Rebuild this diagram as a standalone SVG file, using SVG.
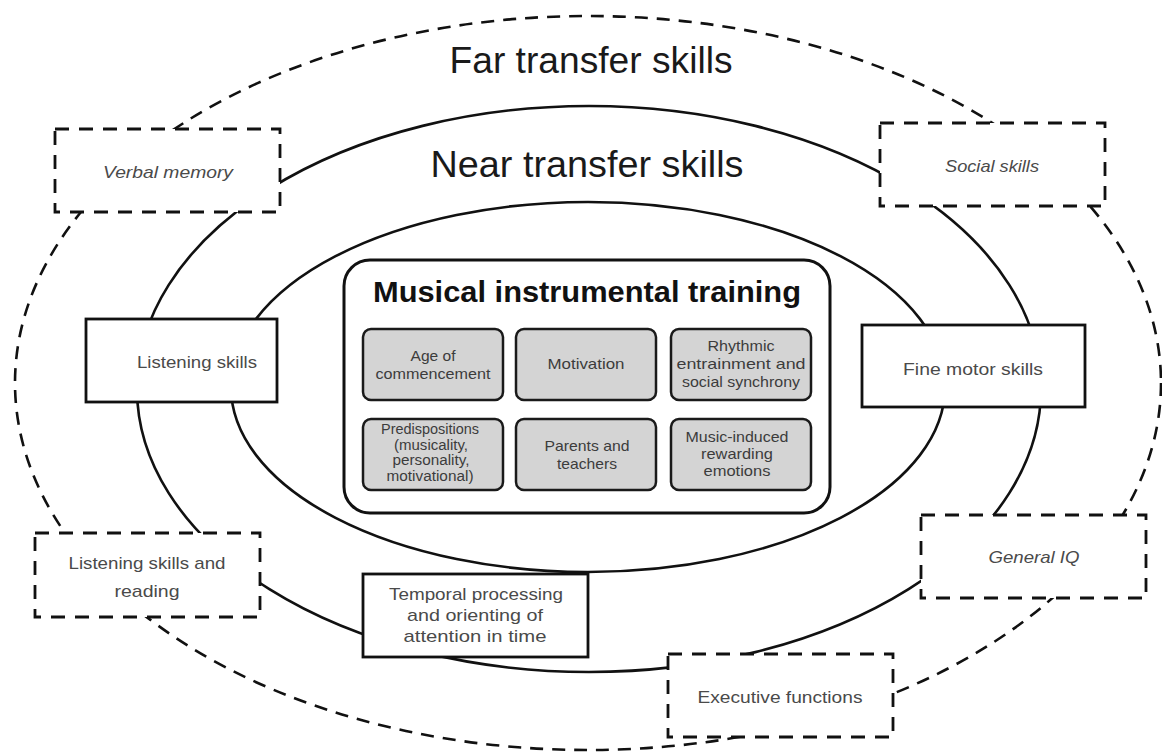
<svg xmlns="http://www.w3.org/2000/svg" width="1162" height="753" viewBox="0 0 1162 753">
<style>
.far{fill:none;stroke:#111;stroke-width:2.6;stroke-dasharray:13 9}
.ring{fill:none;stroke:#111;stroke-width:2.6}
.box{fill:#fff;stroke:#111;stroke-width:2.8}
.dbox{fill:#fff;stroke:#111;stroke-width:2.8;stroke-dasharray:14 10}
.core{fill:#fff;stroke:#111;stroke-width:3}
.cell{fill:#d4d4d4;stroke:#1a1a1a;stroke-width:2.5}
text{font-family:"Liberation Sans",Arial,sans-serif;text-anchor:middle}
.big{font-size:36px;fill:#1a1a1a}
.title{font-size:29px;font-weight:bold;fill:#111}
.lab{font-size:17px;fill:#4a4a4a}
.it{font-style:italic}
.sm{font-size:15px;fill:#3c3c3c}
.xs{font-size:14px;fill:#3c3c3c}
</style>
<rect width="1162" height="753" fill="#fff"/>
<g id="connectors">
<ellipse class="far" cx="588" cy="383" rx="573" ry="367"/>
<ellipse class="ring" cx="589" cy="389" rx="452" ry="283"/>
<ellipse class="ring" cx="588" cy="387" rx="357" ry="185"/>
</g>
<g id="labels">
<text class="big" x="591" y="73" textLength="283" lengthAdjust="spacingAndGlyphs">Far transfer skills</text>
<text class="big" x="587" y="177" textLength="313" lengthAdjust="spacingAndGlyphs">Near transfer skills</text>
</g>
<g id="verbal-memory">
<rect class="dbox" x="55" y="129" width="225" height="83"/>
<text class="lab it" x="168" y="178" textLength="130" lengthAdjust="spacingAndGlyphs">Verbal memory</text>
</g>
<g id="social-skills">
<rect class="dbox" x="880" y="123" width="225" height="83"/>
<text class="lab it" x="992" y="172" textLength="94" lengthAdjust="spacingAndGlyphs">Social skills</text>
</g>
<g id="listening-skills">
<rect class="box" x="86" y="319" width="191" height="83"/>
<text class="lab" x="197" y="368" textLength="120" lengthAdjust="spacingAndGlyphs">Listening skills</text>
</g>
<g id="fine-motor-skills">
<rect class="box" x="862" y="325" width="223" height="82"/>
<text class="lab" x="973" y="375" textLength="140" lengthAdjust="spacingAndGlyphs">Fine motor skills</text>
</g>
<g id="listening-reading">
<rect class="dbox" x="35" y="533" width="225" height="84"/>
<text class="lab" x="147" y="569" textLength="157" lengthAdjust="spacingAndGlyphs">Listening skills and</text>
<text class="lab" x="147" y="597" textLength="65" lengthAdjust="spacingAndGlyphs">reading</text>
</g>
<g id="temporal-processing">
<rect class="box" x="363" y="574" width="225" height="83"/>
<text class="lab" x="476" y="600" textLength="174" lengthAdjust="spacingAndGlyphs">Temporal processing</text>
<text class="lab" x="475" y="621" textLength="136" lengthAdjust="spacingAndGlyphs">and orienting of</text>
<text class="lab" x="475" y="642" textLength="143" lengthAdjust="spacingAndGlyphs">attention in time</text>
</g>
<g id="general-iq">
<rect class="dbox" x="921" y="515" width="225" height="83"/>
<text class="lab it" x="1034" y="563" textLength="91" lengthAdjust="spacingAndGlyphs">General IQ</text>
</g>
<g id="executive-functions">
<rect class="dbox" x="668" y="654" width="225" height="83"/>
<text class="lab" x="780" y="703" textLength="165" lengthAdjust="spacingAndGlyphs">Executive functions</text>
</g>
<g id="musical-training">
<rect class="core" x="344" y="260" width="486" height="253" rx="26"/>
<text class="title" x="587" y="302" textLength="428" lengthAdjust="spacingAndGlyphs">Musical instrumental training</text>
</g>
<g id="age">
<rect class="cell" x="363" y="329" width="140" height="71" rx="8"/>
<text class="sm" x="433" y="361" textLength="45" lengthAdjust="spacingAndGlyphs">Age of</text>
<text class="sm" x="433" y="379" textLength="115" lengthAdjust="spacingAndGlyphs">commencement</text>
</g>
<g id="motivation">
<rect class="cell" x="516" y="329" width="140" height="71" rx="8"/>
<text class="sm" x="586" y="369" textLength="77" lengthAdjust="spacingAndGlyphs">Motivation</text>
</g>
<g id="rhythmic">
<rect class="cell" x="671" y="329" width="140" height="71" rx="8"/>
<text class="sm" x="741" y="351" textLength="67" lengthAdjust="spacingAndGlyphs">Rhythmic</text>
<text class="sm" x="741" y="369" textLength="129" lengthAdjust="spacingAndGlyphs">entrainment and</text>
<text class="sm" x="741" y="387" textLength="118" lengthAdjust="spacingAndGlyphs">social synchrony</text>
</g>
<g id="predispositions">
<rect class="cell" x="363" y="419" width="140" height="71" rx="8"/>
<text class="xs" x="430" y="434" textLength="98" lengthAdjust="spacingAndGlyphs">Predispositions</text>
<text class="xs" x="431" y="450" textLength="74" lengthAdjust="spacingAndGlyphs">(musicality,</text>
<text class="xs" x="431" y="465" textLength="77" lengthAdjust="spacingAndGlyphs">personality,</text>
<text class="xs" x="430" y="481" textLength="87" lengthAdjust="spacingAndGlyphs">motivational)</text>
</g>
<g id="parents">
<rect class="cell" x="516" y="419" width="140" height="71" rx="8"/>
<text class="sm" x="587" y="451" textLength="85" lengthAdjust="spacingAndGlyphs">Parents and</text>
<text class="sm" x="587" y="469" textLength="60" lengthAdjust="spacingAndGlyphs">teachers</text>
</g>
<g id="music-induced">
<rect class="cell" x="671" y="419" width="140" height="71" rx="8"/>
<text class="sm" x="737" y="442" textLength="103" lengthAdjust="spacingAndGlyphs">Music-induced</text>
<text class="sm" x="737" y="459" textLength="72" lengthAdjust="spacingAndGlyphs">rewarding</text>
<text class="sm" x="737" y="476" textLength="67" lengthAdjust="spacingAndGlyphs">emotions</text>
</g>
</svg>
